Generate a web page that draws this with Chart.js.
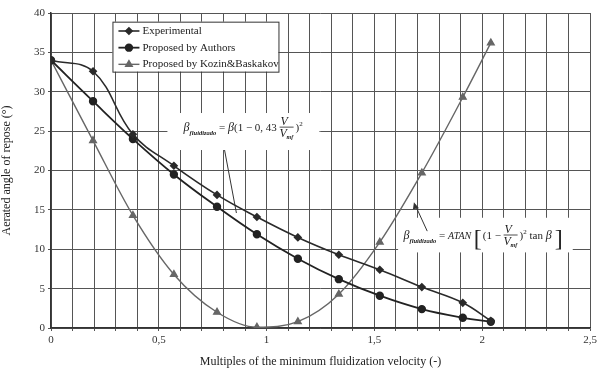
<!DOCTYPE html>
<html><head><meta charset="utf-8">
<script src="https://cdn.jsdelivr.net/npm/chart.js@4/dist/chart.umd.min.js"></script>
<style>html,body{margin:0;padding:0;background:#fff}#wrap{width:605px;height:375px}</style>
</head><body><div id="wrap"><canvas id="c" width="605" height="375"></canvas></div>
<script>
const seriesNames = ["Experimental", "Proposed by Authors", "Proposed by Kozin&Baskakov"];
const xVelocity = [0, 0.195, 0.38, 0.57, 0.77, 0.955, 1.145, 1.335, 1.525, 1.72, 1.91, 2.04];
const yExperimental = [34, 32.6, 24.6, 20.6, 16.9, 14.1, 11.5, 9.3, 7.4, 5.2, 3.2, 0.9];
const yAuthors = [34, 28.8, 24.0, 19.5, 15.4, 11.9, 8.8, 6.2, 4.1, 2.4, 1.3, 0.8];
const yKozin = [34, 23.8, 14.3, 6.8, 2.0, 0.1, 0.8, 4.3, 10.9, 19.7, 29.3, 36.2];
const xTickLabels = ["0", "0,5", "1", "1,5", "2", "2,5"];
const yTickLabels = ["0", "5", "10", "15", "20", "25", "30", "35", "40"];
const xTitle = "Multiples of the minimum fluidization velocity (-)";
const yTitle = "Aerated angle of repose (°)";

const pts = ys => xVelocity.map((x, i) => ({x: x, y: ys[i]}));
const SERIF = "'Liberation Serif','DejaVu Serif',serif";

const legendPlugin = {
  id: 'boxLegend',
  afterDraw(chart) {
    const ctx = chart.ctx, sx = chart.scales.x, sy = chart.scales.y;
    const L = sx.getPixelForValue(0.285), R = sx.getPixelForValue(1.055);
    const T = sy.getPixelForValue(38.9), B = sy.getPixelForValue(32.55);
    ctx.save();
    ctx.fillStyle = '#fff'; ctx.fillRect(L, T, R - L, B - T);
    ctx.strokeStyle = '#333'; ctx.lineWidth = 1; ctx.strokeRect(L + 0.5, T + 0.5, R - L, B - T);
    const rowH = (B - T) / 3;
    chart.data.datasets.forEach((ds, i) => {
      const yy = T + rowH * (i + 0.5) + 1;
      const x0 = L + 6, x1 = L + 27;
      ctx.strokeStyle = ds.borderColor; ctx.lineWidth = ds.borderWidth;
      ctx.beginPath(); ctx.moveTo(x0, yy); ctx.lineTo(x1, yy); ctx.stroke();
      ctx.fillStyle = ds.backgroundColor; ctx.strokeStyle = ds.borderColor;
      Chart.helpers.drawPoint(ctx, {pointStyle: ds.pointStyle, radius: ds.pointRadius, borderWidth: 1}, (x0 + x1) / 2, yy);
      ctx.fillStyle = '#222'; ctx.font = '11px ' + SERIF; ctx.textBaseline = 'middle';
      ctx.fillText(ds.label, x1 + 3, yy);
    });
    ctx.restore();
  }
};

function drawPieces(ctx, x, y, pieces) {
  pieces.forEach(p => {
    ctx.font = p.f;
    if (p.frac) {
      ctx.fillText(p.top, x + 1, y - 6);
      ctx.beginPath(); ctx.moveTo(x, y - 4); ctx.lineTo(x + 14, y - 4); ctx.lineWidth = 0.8; ctx.stroke();
      ctx.fillText('V', x, y + 6);
      ctx.font = 'italic bold 6px ' + SERIF; ctx.fillText('mf', x + 7, y + 8);
      x += 16;
    } else {
      ctx.fillText(p.t, x, y + (p.dy || 0));
      x += ctx.measureText(p.t).width;
    }
  });
  return x;
}

const formulaPlugin = {
  id: 'formulas',
  beforeDatasetsDraw(chart) {
    const ctx = chart.ctx, sx = chart.scales.x, sy = chart.scales.y;
    ctx.save();
    ctx.fillStyle = '#fff';
    let bx = sx.getPixelForValue(0.54), by = sy.getPixelForValue(27.3);
    ctx.fillRect(bx, by, sx.getPixelForValue(1.245) - bx, sy.getPixelForValue(22.6) - by);
    bx = sx.getPixelForValue(1.61); by = sy.getPixelForValue(14.0);
    ctx.fillRect(bx, by, sx.getPixelForValue(2.42) - bx, sy.getPixelForValue(9.6) - by);
    ctx.fillStyle = '#222'; ctx.strokeStyle = '#222'; ctx.textBaseline = 'alphabetic';
    const it = 'italic 12px ' + SERIF, rm = '11px ' + SERIF, sub = 'italic bold 6.5px ' + SERIF;
    let x = sx.getPixelForValue(0.615), y = sy.getPixelForValue(25.0);
    drawPieces(ctx, x, y, [
      {t: 'β', f: it}, {t: 'fluidizado', f: sub, dy: 4}, {t: ' = ', f: rm}, {t: 'β', f: it},
      {t: '(1 − 0, 43 ', f: rm}, {frac: true, top: 'V', f: it}, {t: ')', f: rm}, {t: '2', f: '7px ' + SERIF, dy: -5}
    ]);
    ctx.lineWidth = 1; ctx.strokeStyle = '#333';
    ctx.beginPath(); ctx.moveTo(sx.getPixelForValue(0.805), sy.getPixelForValue(22.6));
    ctx.lineTo(sx.getPixelForValue(0.86), sy.getPixelForValue(14.6)); ctx.stroke();
    x = sx.getPixelForValue(1.635); y = sy.getPixelForValue(11.3);
    ctx.strokeStyle = '#222';
    x = drawPieces(ctx, x, y, [
      {t: 'β', f: it}, {t: 'fluidizado', f: sub, dy: 4}, {t: ' = ', f: rm}, {t: 'ATAN ', f: 'italic 10px ' + SERIF}
    ]);
    ctx.font = '24px ' + SERIF; ctx.fillText('[', x, y + 7); x += 9;
    x = drawPieces(ctx, x, y, [
      {t: '(1 − ', f: rm}, {frac: true, top: 'V', f: it}, {t: ')', f: rm}, {t: '2', f: '7px ' + SERIF, dy: -5},
      {t: ' tan ', f: rm}, {t: 'β', f: it}
    ]);
    ctx.font = '24px ' + SERIF; ctx.fillText(']', x + 3, y + 7);
    ctx.strokeStyle = '#333'; ctx.lineWidth = 1;
    const ax = sx.getPixelForValue(1.688), ay = sy.getPixelForValue(15.7);
    ctx.beginPath(); ctx.moveTo(sx.getPixelForValue(1.745), sy.getPixelForValue(12.3)); ctx.lineTo(ax, ay); ctx.stroke();
    ctx.fillStyle = '#333';
    ctx.beginPath(); ctx.moveTo(ax - 1, ay - 2); ctx.lineTo(ax + 4, ay + 4); ctx.lineTo(ax - 2, ay + 5); ctx.closePath(); ctx.fill();
    ctx.restore();
  }
};

new Chart(document.getElementById('c'), {
  type: 'line',
  data: {
    datasets: [
      {label: seriesNames[0], data: pts(yExperimental), borderColor: '#2a2a2a', backgroundColor: '#2a2a2a',
       borderWidth: 1.6, pointStyle: 'rectRot', pointRadius: 3.2, tension: 0.4, fill: false},
      {label: seriesNames[1], data: pts(yAuthors), borderColor: '#222', backgroundColor: '#222',
       borderWidth: 1.8, pointStyle: 'circle', pointRadius: 3.3, tension: 0.4, fill: false},
      {label: seriesNames[2], data: pts(yKozin), borderColor: '#666', backgroundColor: '#666',
       borderWidth: 1.4, pointStyle: 'triangle', pointRadius: 3.8, cubicInterpolationMode: 'monotone', fill: false}
    ]
  },
  options: {
    responsive: false, animation: false, devicePixelRatio: 1,
    layout: {padding: {left: 0, right: 15, top: 13, bottom: 0}},
    plugins: {legend: {display: false}, tooltip: {enabled: false}},
    scales: {
      x: {
        type: 'linear', min: 0, max: 2.5,
        afterFit: s => { s.height = 47; },
        grid: {color: '#555', lineWidth: 1, tickLength: 3, drawTicks: true},
        border: {color: '#333', width: 1.5},
        ticks: {
          stepSize: 0.1, autoSkip: false, maxRotation: 0, color: '#333',
          font: {family: SERIF, size: 11},
          callback: v => { const k = Math.round(v * 10); return (k % 5 === 0) ? xTickLabels[k / 5] : ''; }
        },
        title: {display: true, text: xTitle, color: '#222', font: {family: SERIF, size: 12}, padding: {top: 2, bottom: 6}}
      },
      y: {
        min: 0, max: 40,
        afterFit: s => { s.width = 51; },
        grid: {color: '#555', lineWidth: 1, tickLength: 3},
        border: {color: '#333', width: 1.5},
        ticks: {stepSize: 5, color: '#333', font: {family: SERIF, size: 11},
          callback: v => yTickLabels[Math.round(v / 5)]},
        title: {display: true, text: yTitle, color: '#222', font: {family: SERIF, size: 12}, padding: {top: 0, bottom: 4}}
      }
    }
  },
  plugins: [formulaPlugin, legendPlugin]
});
</script></body></html>
